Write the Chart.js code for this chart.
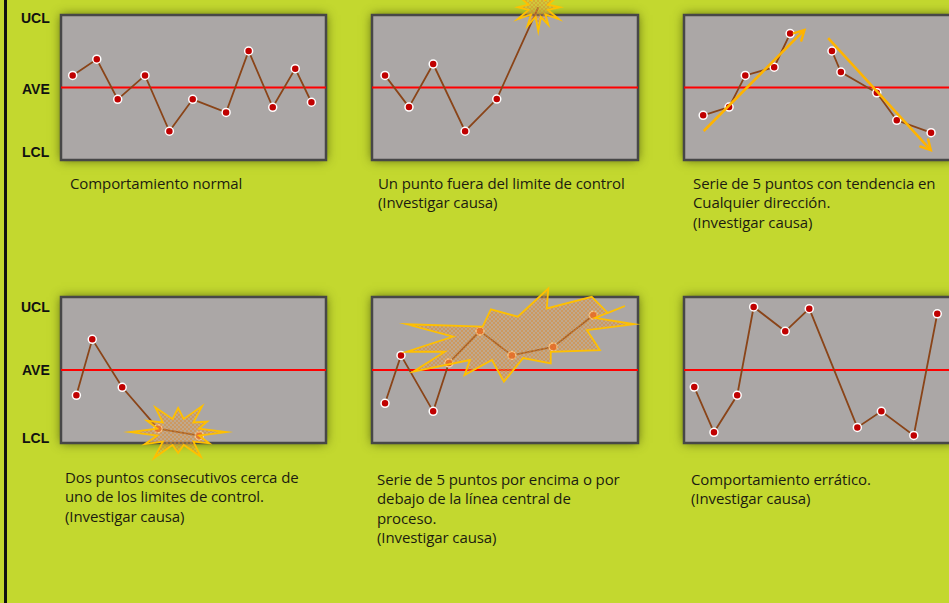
<!DOCTYPE html>
<html>
<head>
<meta charset="utf-8">
<script src="https://cdn.jsdelivr.net/npm/chart.js@4.4.1/dist/chart.umd.min.js"></script>
<style>
  body { margin: 0; width: 949px; height: 603px; overflow: hidden; background: #c3d82f; position: relative;
         font-family: "Open Sans", "Noto Sans", sans-serif; }
  #borde { position: absolute; left: 4px; top: 0; width: 3px; height: 603px; background: #111; }
  .lim { position: absolute; font: bold 14px "Liberation Sans", Arial, sans-serif; color: #111; line-height: 16px; }
  .txt { position: absolute; font-size: 15px; line-height: 19.3px; color: #1c1c10; white-space: nowrap; letter-spacing: -0.1px; }
  canvas { position: absolute; }
</style>
</head>
<body>
<div id="borde"></div>

<div class="lim" style="left:21px;top:10px">UCL</div>
<div class="lim" style="left:22px;top:81px">AVE</div>
<div class="lim" style="left:22px;top:144px">LCL</div>
<div class="lim" style="left:21px;top:299px">UCL</div>
<div class="lim" style="left:22px;top:362px">AVE</div>
<div class="lim" style="left:22px;top:430px">LCL</div>

<div class="txt" style="left:70px;top:174px">Comportamiento normal</div>
<div class="txt" style="left:378px;top:174px">Un punto fuera del limite de control<br>(Investigar causa)</div>
<div class="txt" style="left:693px;top:174px">Serie de 5 puntos con tendencia en<br>Cualquier dirección.<br>(Investigar causa)</div>
<div class="txt" style="left:65px;top:468px">Dos puntos consecutivos cerca de<br>uno de los limites de control.<br>(Investigar causa)</div>
<div class="txt" style="left:377px;top:470px">Serie de 5 puntos por encima o por<br>debajo de la línea central de<br>proceso.<br>(Investigar causa)</div>
<div class="txt" style="left:691px;top:470px">Comportamiento errático.<br>(Investigar causa)</div>

<canvas id="g1"></canvas>
<canvas id="g2"></canvas>
<canvas id="g3"></canvas>
<canvas id="g4"></canvas>
<canvas id="g5"></canvas>
<canvas id="g6"></canvas>

<script>
// escala vertical: UCL = 3, AVE = 0, LCL = -3 ; horizontal 0..100 dentro del cuadro
const normalX = [4.4, 13.5, 21.4, 31.7, 40.9, 49.7, 62.3, 70.8, 79.9, 88.4, 94.5];
const normalY = [0.5, 1.17, -0.49, 0.5, -1.81, -0.49, -1.03, 1.51, -0.82, 0.78, -0.61];

const fueraX = [4.9, 13.9, 23.0, 35.0, 46.9, 62.5];
const fueraY = [0.5, -0.81, 0.97, -1.81, -0.48, 3.32];

const subeX = [7.1, 16.7, 22.7, 33.4, 39.3];
const subeY = [-1.15, -0.81, 0.5, 0.84, 2.23];
const bajaX = [54.8, 58.1, 71.4, 78.8, 91.5];
const bajaY = [1.51, 0.64, -0.22, -1.36, -1.87];
const flechaSubeX = [7.3, 44.6];
const flechaSubeY = [-1.8, 2.38];
const flechaBajaX = [53.4, 91.4];
const flechaBajaY = [2.04, -2.59];

const cercaX = [5.8, 11.8, 23.1, 36.6, 52.2];
const cercaY = [-1.04, 1.26, -0.71, -2.41, -2.70];

const serieX = [4.9, 10.9, 23.0, 28.9, 40.6, 52.6, 68.1, 83.2];
const serieY = [-1.37, 0.60, -1.70, 0.29, 1.60, 0.60, 0.95, 2.25];

const erraticoX = [3.8, 11.1, 19.7, 25.8, 37.5, 46.4, 64.2, 73.1, 85.1, 93.8];
const erraticoY = [-0.70, -2.56, -1.04, 2.59, 1.59, 2.52, -2.36, -1.70, -2.69, 2.31];

// estrella grande del grafico 5 (vertices en unidades del grafico)
const estrella5X = [13.0, 41.6, 44.7, 54.8, 66.3, 65.7, 82.6, 88.7, 95.1, 83.8, 98.6, 80.8, 85.7, 67.2, 67.2, 56.8, 49.6, 45.1, 34.8, 36.8, 15.5, 27.4, 13.0, 30.5];
const estrella5Y = [1.88, 1.78, 2.49, 2.19, 3.35, 2.53, 3.01, 2.34, 2.63, 2.14, 1.88, 1.64, 0.82, 0.75, 0.27, 0.49, -0.48, 0.41, -0.21, 0.41, -0.07, 0.75, 0.75, 1.37];

const PAD = 24;
const ROJO = '#c00000';
const RESALTE = '#e2501c';

function pares(xs, ys) {
  return xs.map((x, i) => ({ x: x, y: ys[i] }));
}

// patron cuadriculado para el relleno de las estrellas
function patronRayado(ctx) {
  const c = document.createElement('canvas');
  c.width = 4; c.height = 4;
  const p = c.getContext('2d');
  p.fillStyle = 'rgba(235,170,90,0.32)';
  p.fillRect(0, 0, 4, 4);
  p.strokeStyle = 'rgba(220,135,45,0.45)';
  p.lineWidth = 1;
  p.beginPath();
  p.moveTo(0, 0); p.lineTo(4, 4);
  p.moveTo(4, 0); p.lineTo(0, 4);
  p.stroke();
  return ctx.createPattern(c, 'repeat');
}

const cuadroPlugin = {
  id: 'cuadro',
  beforeDatasetsDraw(chart) {
    const { ctx, chartArea: a } = chart;
    ctx.save();
    ctx.shadowColor = 'rgba(55,65,5,0.8)';
    ctx.shadowBlur = 10;
    ctx.fillStyle = '#aba7a6';
    ctx.fillRect(a.left, a.top, a.right - a.left, a.bottom - a.top);
    ctx.shadowColor = 'transparent';
    ctx.strokeStyle = '#474747';
    ctx.lineWidth = 2.5;
    ctx.strokeRect(a.left, a.top, a.right - a.left, a.bottom - a.top);
    ctx.restore();
  }
};

const estrellaPlugin = {
  id: 'estrellas',
  afterDatasetsDraw(chart, args, opts) {
    const lista = opts.lista || [];
    if (!lista.length) return;
    const { ctx, scales: { x, y } } = chart;
    ctx.save();
    lista.forEach(e => {
      ctx.beginPath();
      if (e.vx) {
        e.vx.forEach((vx, i) => {
          const px = x.getPixelForValue(vx), py = y.getPixelForValue(e.vy[i]);
          if (i === 0) ctx.moveTo(px, py); else ctx.lineTo(px, py);
        });
      } else {
        const cx = x.getPixelForValue(e.cx), cy = y.getPixelForValue(e.cy);
        const n = e.picos.length;
        for (let i = 0; i < n; i++) {
          const a1 = e.giro + (i / n) * Math.PI * 2;
          const a2 = e.giro + ((i + 0.5) / n) * Math.PI * 2;
          const r = e.picos[i];
          const p1x = cx + Math.cos(a1) * e.rx * r, p1y = cy + Math.sin(a1) * e.ry * r;
          const p2x = cx + Math.cos(a2) * e.rx * e.dentro, p2y = cy + Math.sin(a2) * e.ry * e.dentro;
          if (i === 0) ctx.moveTo(p1x, p1y); else ctx.lineTo(p1x, p1y);
          ctx.lineTo(p2x, p2y);
        }
      }
      ctx.closePath();
      ctx.fillStyle = patronRayado(ctx);
      ctx.fill();
      ctx.strokeStyle = '#ffc000';
      ctx.lineWidth = 1.8;
      ctx.lineJoin = 'miter';
      ctx.stroke();
    });
    ctx.restore();
  }
};

const flechaPlugin = {
  id: 'flechas',
  afterDatasetsDraw(chart) {
    const ctx = chart.ctx;
    chart.data.datasets.forEach((ds, i) => {
      if (!ds.flecha) return;
      const pts = chart.getDatasetMeta(i).data;
      const a = pts[pts.length - 2], b = pts[pts.length - 1];
      const ang = Math.atan2(b.y - a.y, b.x - a.x);
      ctx.save();
      ctx.strokeStyle = ds.borderColor;
      ctx.lineWidth = 2.5;
      ctx.lineCap = 'round';
      ctx.beginPath();
      ctx.moveTo(b.x - 11 * Math.cos(ang - 0.5), b.y - 11 * Math.sin(ang - 0.5));
      ctx.lineTo(b.x, b.y);
      ctx.lineTo(b.x - 11 * Math.cos(ang + 0.5), b.y - 11 * Math.sin(ang + 0.5));
      ctx.stroke();
      ctx.restore();
    });
  }
};

function lineaMedia() {
  return {
    data: [{ x: 0, y: 0 }, { x: 100, y: 0 }],
    showLine: true, borderColor: '#ff0000', borderWidth: 2, pointRadius: 0, order: 5
  };
}

function serie(xs, ys, resaltar) {
  const fondo = xs.map((_, i) => (resaltar && resaltar.includes(i)) ? RESALTE : ROJO);
  const borde = xs.map((_, i) => (resaltar && resaltar.includes(i)) ? '#f6d2a6' : '#ffffff');
  return {
    data: pares(xs, ys),
    showLine: true, borderColor: '#8a4418', borderWidth: 1.8,
    pointRadius: 4, pointBackgroundColor: fondo, pointBorderColor: borde, pointBorderWidth: 1.5,
    order: 2, clip: false
  };
}

function flecha(xs, ys) {
  return {
    data: pares(xs, ys), showLine: true, flecha: true,
    borderColor: '#ffb400', borderWidth: 2.5, pointRadius: 0, order: 1, clip: false
  };
}

function crearGrafico(id, caja, datasets, estrellas) {
  const canvas = document.getElementById(id);
  const w = caja.w + PAD * 2, h = caja.h + PAD * 2;
  canvas.width = w; canvas.height = h;
  canvas.style.width = w + 'px'; canvas.style.height = h + 'px';
  canvas.style.left = (caja.left - PAD) + 'px';
  canvas.style.top = (caja.top - PAD) + 'px';
  new Chart(canvas.getContext('2d'), {
    type: 'scatter',
    data: { datasets: datasets },
    options: {
      responsive: false, animation: false,
      layout: { padding: PAD },
      scales: {
        x: { type: 'linear', min: 0, max: 100, display: false },
        y: { type: 'linear', min: -3, max: 3, display: false }
      },
      plugins: {
        legend: { display: false }, tooltip: { enabled: false },
        estrellas: { lista: estrellas || [] }
      }
    },
    plugins: [cuadroPlugin, estrellaPlugin, flechaPlugin]
  });
}

crearGrafico('g1', { left: 61, top: 15, w: 265, h: 145 },
  [lineaMedia(), serie(normalX, normalY)]);

crearGrafico('g2', { left: 372, top: 15, w: 266, h: 145 },
  [lineaMedia(), serie(fueraX, fueraY, [5])],
  [{ cx: 62.5, cy: 3.32, rx: 24, ry: 24, dentro: 0.42, giro: -Math.PI / 2,
     picos: [1, 0.85, 1, 0.9, 1, 0.85, 1, 0.9, 1, 0.85, 1, 0.9] }]);

crearGrafico('g3', { left: 684, top: 15, w: 270, h: 145 },
  [lineaMedia(), serie(subeX, subeY), serie(bajaX, bajaY),
   flecha(flechaSubeX, flechaSubeY), flecha(flechaBajaX, flechaBajaY)]);

crearGrafico('g4', { left: 61, top: 297, w: 265, h: 146 },
  [lineaMedia(), serie(cercaX, cercaY, [3, 4])],
  [{ cx: 44.2, cy: -2.55, rx: 48, ry: 30, dentro: 0.45, giro: 0,
     picos: [1, 0.75, 0.95, 0.7, 1, 0.8, 1, 0.75, 0.95, 0.8, 1, 0.7] }]);

crearGrafico('g5', { left: 372, top: 297, w: 266, h: 146 },
  [lineaMedia(), serie(serieX, serieY, [3, 4, 5, 6, 7])],
  [{ vx: estrella5X, vy: estrella5Y }]);

crearGrafico('g6', { left: 684, top: 297, w: 270, h: 146 },
  [lineaMedia(), serie(erraticoX, erraticoY)]);
</script>
</body>
</html>
